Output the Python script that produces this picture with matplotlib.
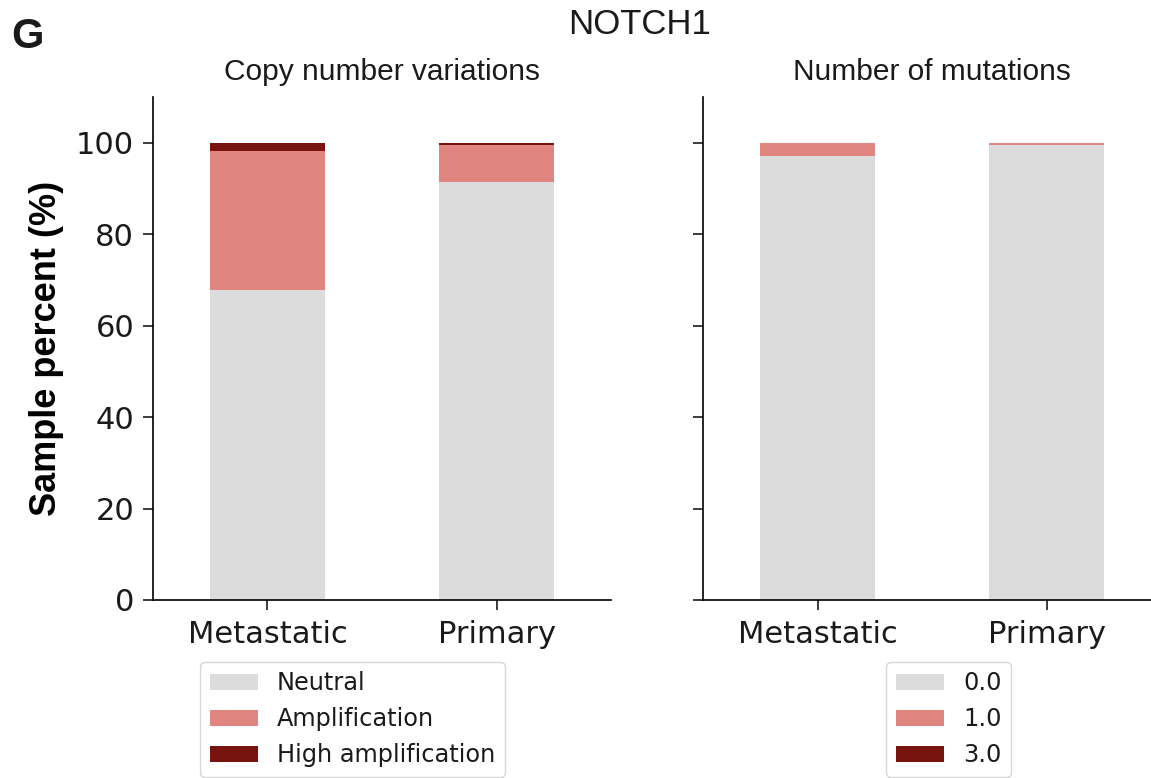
import numpy as np
import matplotlib
matplotlib.use("Agg")
import matplotlib.pyplot as plt

groups = ["Metastatic", "Primary"]

# copy number variation shares (%)
cnv_labels = ["Neutral", "Amplification", "High amplification"]
cnv_neutral = [67.8, 91.4]
cnv_amp = [30.3, 8.2]
cnv_high = [1.9, 0.4]

# number of mutations shares (%)
mut_labels = ["0.0", "1.0", "3.0"]
mut_0 = [97.2, 99.6]
mut_1 = [2.8, 0.3]
mut_3 = [0.0, 0.1]

colors = ["#dcdcdc", "#e08580", "#78140e"]

plt.rcParams["font.family"] = "DejaVu Sans"
plt.rcParams["text.color"] = "#1a1a1a"
plt.rcParams["xtick.color"] = "#1a1a1a"
plt.rcParams["ytick.color"] = "#1a1a1a"

fig = plt.figure(figsize=(11.51, 7.78), dpi=100)
ax1 = fig.add_axes([0.1329, 0.2288, 0.398, 0.6465])
ax2 = fig.add_axes([0.6108, 0.2288, 0.398, 0.6465], sharey=ax1)

x = np.arange(len(groups))


def stacked(ax, series, labels):
    bottom = np.zeros(len(groups))
    for vals, lab, c in zip(series, labels, colors):
        ax.bar(x, vals, width=0.5, bottom=bottom, color=c, label=lab)
        bottom = bottom + np.array(vals)
    ax.set_xticks(x)
    ax.set_xticklabels(groups)
    ax.set_xlim(-0.5, 1.5)
    ax.spines["top"].set_visible(False)
    ax.spines["right"].set_visible(False)
    ax.tick_params(labelsize=22, length=7.5, width=1.2)
    ax.tick_params(axis="x", pad=7)
    ax.tick_params(axis="y", pad=6)
    for s in ["left", "bottom"]:
        ax.spines[s].set_linewidth(1.2)


stacked(ax1, [cnv_neutral, cnv_amp, cnv_high], cnv_labels)
stacked(ax2, [mut_0, mut_1, mut_3], mut_labels)
ax1.set_ylim(0, 110)
ax1.set_yticks([0, 20, 40, 60, 80, 100])
plt.setp(ax2.get_yticklabels(), visible=False)

ax1.set_ylabel("Sample percent (%)", fontsize=26, fontweight="bold",
               family="Liberation Sans", labelpad=9)
ax1.set_title("Copy number variations", fontsize=21.5, pad=12,
              family="Liberation Sans")
ax2.set_title("Number of mutations", fontsize=21.5, pad=12,
              family="Liberation Sans")

ax1.legend(loc="upper left", bbox_to_anchor=(0.1026, -0.123), fontsize=17.3,
           borderaxespad=0)
ax2.legend(loc="upper left", bbox_to_anchor=(0.3996, -0.123), fontsize=17.3,
           borderaxespad=0)

fig.text(0.556, 1 - 25 / 778, "NOTCH1", ha="center", va="center",
         fontsize=25, family="Liberation Sans")
fig.text(0.01, 1 - 37 / 778, "G", ha="left", va="center", fontsize=30,
         fontweight="bold", family="Liberation Sans")

fig.savefig("out.png", dpi=100)
